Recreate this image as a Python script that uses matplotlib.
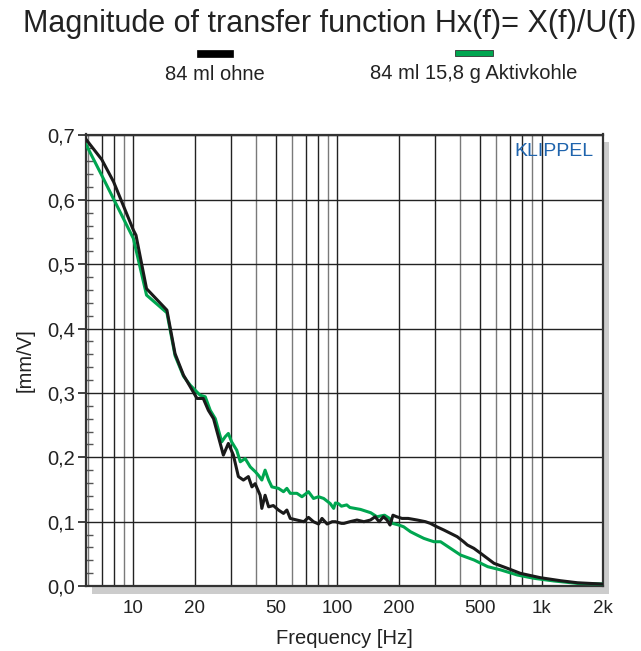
import numpy as np
import matplotlib
matplotlib.use('Agg')
from matplotlib import pyplot as plt
from matplotlib.patches import Rectangle
from matplotlib.ticker import FixedLocator, FuncFormatter

plt.rcParams['font.family'] = ['Liberation Sans', 'DejaVu Sans']

# 84 ml ohne (black)
black_f = [5.86, 7.0, 8.0, 10.0, 10.3, 11.6, 14.6, 16.0, 17.6, 19.0, 20.5, 22.0, 23.3,
           24.7, 26.1, 27.6, 29.2, 30.9, 32.7, 34.6, 36.6, 38.1, 39.5, 41.8, 42.6, 44.2,
           46.0, 48.5, 51.4, 54.4, 56.5, 58.7, 63.3, 68.4, 72.1, 76.3, 80.8, 84.0, 89.0,
           94.2, 97.7, 104.6, 107.6, 115, 124.6, 134.8, 145, 153, 160, 168, 175, 181,
           187, 195, 207, 222, 246, 270, 285, 307, 332, 358, 386, 415, 433, 466, 503,
           585, 680, 787, 987, 1240, 1500, 2000]
black_v = [0.694, 0.6626, 0.628, 0.553, 0.545, 0.462, 0.4286, 0.361, 0.3276, 0.3095,
           0.2914, 0.2914, 0.273, 0.260, 0.232, 0.2034, 0.2215, 0.2034, 0.170, 0.1646,
           0.170, 0.154, 0.159, 0.141, 0.1206, 0.141, 0.123, 0.125, 0.118, 0.1128,
           0.118, 0.105, 0.1025, 0.0999, 0.1066, 0.0999, 0.0963, 0.105, 0.0963, 0.0999,
           0.0999, 0.0973, 0.0973, 0.0999, 0.1025, 0.0999, 0.1025, 0.1076, 0.0999,
           0.1076, 0.1025, 0.0947, 0.110, 0.1076, 0.105, 0.105, 0.1025, 0.0999, 0.0973,
           0.092, 0.087, 0.0818, 0.0766, 0.0688, 0.0637, 0.0585, 0.0508, 0.0352,
           0.0275, 0.0197, 0.0129, 0.0082, 0.005, 0.003]

# 84 ml 15,8 g Aktivkohle (green)
green_f = [5.86, 7.0, 10.0, 11.6, 14.6, 16.0, 17.6, 19.0, 21.2, 22.5, 23.8, 25.2, 27.1,
           28.2, 29.2, 30.3, 32.1, 33.4, 35.3, 37.4, 39.6, 41.0, 42.6, 44.2, 46.0, 47.7,
           51.4, 54.4, 56.5, 58.7, 63.3, 67.0, 72.1, 76.3, 80.8, 85.6, 92.2, 95.8, 97.7,
           101, 104.6, 111, 115, 129.6, 145.6, 156, 170, 180, 186, 200, 211, 228, 246,
           265, 280, 297, 320, 358, 401, 467, 545, 634, 760, 916, 1150, 1500, 2000]
green_v = [0.686, 0.638, 0.540, 0.452, 0.4245, 0.358, 0.326, 0.312, 0.2966, 0.294,
           0.273, 0.260, 0.224, 0.232, 0.237, 0.224, 0.211, 0.193, 0.198, 0.185, 0.1775,
           0.172, 0.1646, 0.180, 0.1646, 0.154, 0.1517, 0.1465, 0.1517, 0.144, 0.144,
           0.1387, 0.1465, 0.136, 0.1387, 0.136, 0.128, 0.1206, 0.129, 0.128, 0.124,
           0.126, 0.122, 0.119, 0.1138, 0.1076, 0.110, 0.105, 0.0973, 0.0947, 0.092,
           0.0843, 0.079, 0.074, 0.0714, 0.0688, 0.0688, 0.0585, 0.0481, 0.0404, 0.030,
           0.0248, 0.0171, 0.012, 0.0078, 0.004, 0.003]

x_ticks = [10, 20, 50, 100, 200, 500, 1000, 2000]
x_ticklabels = ['10', '20', '50', '100', '200', '500', '1k', '2k']

W, H = 641, 651
fig = plt.figure(figsize=(W / 100, H / 100), dpi=100)
ax = fig.add_axes([86 / W, 1 - 586 / H, 517 / W, 451.5 / H])
ax.set_zorder(2)

# grey drop shadow to the right / below the plot frame
shadow = Rectangle(((86 + 6) / W, 1 - 594 / H), 517 / W, 451.5 / H,
                   transform=fig.transFigure, facecolor='#cccccc', edgecolor='none', zorder=0)
fig.add_artist(shadow)

ax.set_xscale('log')
ax.set_xlim(5.86, 2000)
ax.set_ylim(0, 0.7015)

# vertical grid lines
for dec in [1, 10, 100, 1000]:
    for m in range(1, 10):
        f = m * dec
        if f < 6 or f > 2000:
            continue
        c = '#222222' if m in (1, 2, 3, 5, 7, 8) else '#7a7a7a'
        ax.axvline(f, color=c, lw=1.0, zorder=1)
for yv in np.arange(0.1, 0.71, 0.1):
    ax.axhline(yv, color='#222222', lw=1.0, zorder=1)

ax.plot(green_f, green_v, color='#00a650', lw=2.2, zorder=3)
ax.plot(black_f, black_v, color='#1a1a1a', lw=2.2, zorder=4)

ax.xaxis.set_major_locator(FixedLocator(x_ticks))
ax.xaxis.set_minor_locator(FixedLocator([]))
ax.set_xticklabels(x_ticklabels)
ax.tick_params(axis='x', length=0, labelsize=13.5, pad=10, colors='#222222')

ax.set_yticks(np.arange(0, 0.71, 0.1))
ax.yaxis.set_major_formatter(FuncFormatter(lambda v, p: ('%.1f' % v).replace('.', ',')))
ax.set_yticks(np.arange(0.02, 0.7, 0.02), minor=True)
ax.tick_params(axis='y', which='major', length=6, width=1.2, labelsize=14.5, pad=2,
               colors='#222222')
ax.tick_params(axis='y', which='minor', direction='in', length=5, width=1.0, color='#555555')

for s in ax.spines.values():
    s.set_color('#333333')
    s.set_linewidth(1.6)

ax.set_xlabel('Frequency [Hz]', fontsize=14.5, color='#222222', labelpad=9)
ax.set_ylabel('[mm/V]', fontsize=14.5, color='#222222', labelpad=9)

ax.text(0.981, 0.962, 'KLIPPEL', transform=ax.transAxes, ha='right', va='center',
        fontsize=14, color='#1f64ad', zorder=5)

fig.text(330 / W, 1 - 32 / H, 'Magnitude of transfer function Hx(f)= X(f)/U(f)',
         ha='center', va='baseline', fontsize=22, color='#222222')

# legend
fig.add_artist(Rectangle((197 / W, 1 - 56.5 / H), 36 / W, 7 / H, transform=fig.transFigure,
                         facecolor='#000000', edgecolor='#000000', lw=0.5))
fig.add_artist(Rectangle((455 / W, 1 - 56 / H), 37.5 / W, 6.5 / H, transform=fig.transFigure,
                         facecolor='#00a650', edgecolor='#333333', lw=0.6))
fig.text(215 / W, 1 - 80 / H, '84 ml ohne', ha='center', va='baseline', fontsize=14.5,
         color='#222222')
fig.text(474 / W, 1 - 79 / H, '84 ml 15,8 g Aktivkohle', ha='center', va='baseline',
         fontsize=14.5, color='#222222')

fig.savefig('out.png', dpi=100)
